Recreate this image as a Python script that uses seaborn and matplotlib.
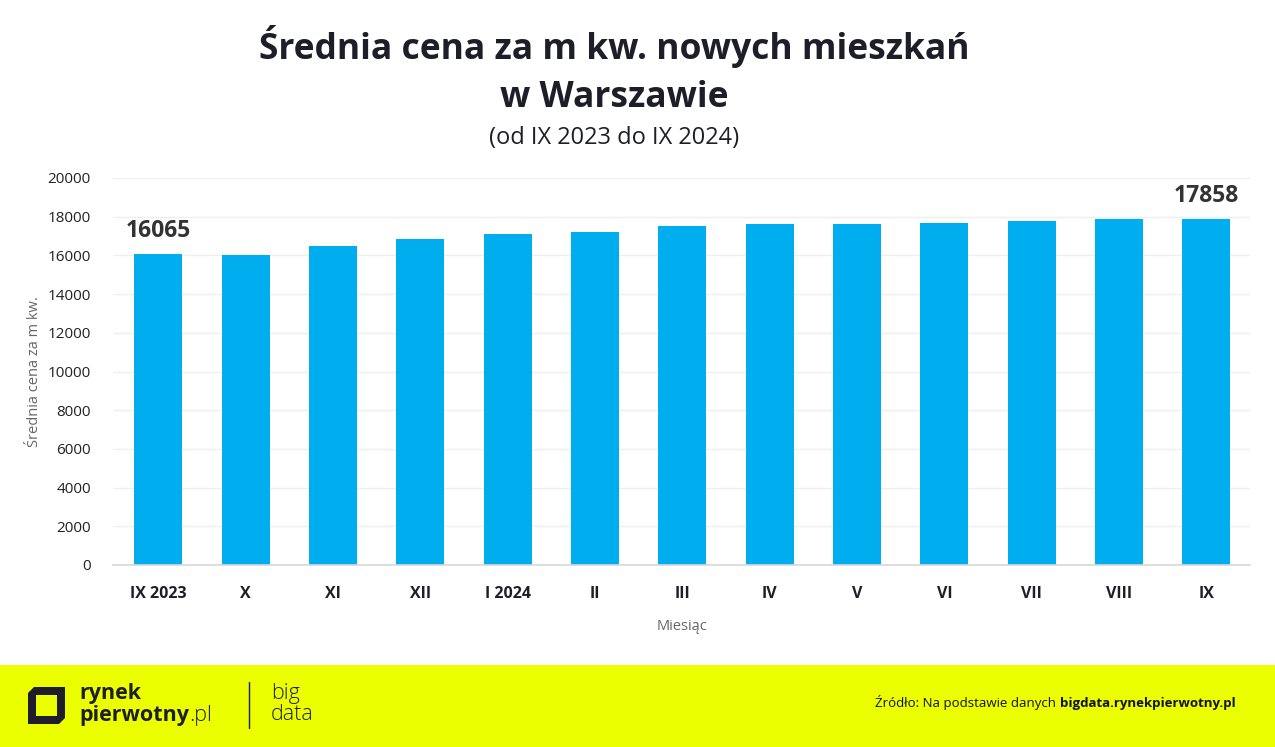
import matplotlib
matplotlib.use("Agg")
import matplotlib.pyplot as plt
import matplotlib.patches as mpatches
import seaborn as sns
import pandas as pd

# ---- data ----
months = ["IX 2023", "X", "XI", "XII", "I 2024", "II", "III", "IV", "V", "VI", "VII", "VIII", "IX"]
prices = [16065, 16040, 16460, 16840, 17130, 17185, 17495, 17615, 17615, 17700, 17770, 17890, 17858]
y_ticks = [0, 2000, 4000, 6000, 8000, 10000, 12000, 14000, 16000, 18000, 20000]
labelled = {0: "16065", 12: "17858"}

title_line1 = "Średnia cena za m kw. nowych mieszkań"
title_line2 = "w Warszawie"
subtitle_text = "(od IX 2023 do IX 2024)"
x_label = "Miesiąc"
y_label = "Średnia cena za m kw."
source_prefix = "Źródło: Na podstawie danych"
source_bold = "bigdata.rynekpierwotny.pl"

df = pd.DataFrame({"month": months, "price": prices})

sns.set_theme(style="white")
plt.rcParams["font.family"] = ["Open Sans", "DejaVu Sans"]

W, H = 1275, 747
fig = plt.figure(figsize=(W / 100, H / 100), dpi=100)
fig.patch.set_facecolor("white")

def fx(x):
    return x / W

def fy(y):
    return 1 - y / H

ax = fig.add_axes([fx(113), fy(565), fx(1250) - fx(113), fy(178) - fy(565)])
sns.barplot(data=df, x="month", y="price", color="#00AEEF", width=0.55,
            saturation=1, ax=ax, edgecolor="none")
ax.set_xlim(-0.52, 12.5)
ax.set_ylim(0, 20000)
ax.set_yticks(y_ticks)
ax.set_yticklabels([str(t) for t in y_ticks], fontsize=11, color="#222222")
ax.tick_params(axis="y", length=0, pad=16)
ax.tick_params(axis="x", length=0, pad=15)
for lab in ax.get_xticklabels():
    lab.set_fontweight("bold")
    lab.set_fontsize(11.5)
    lab.set_color("#1E1E2A")
ax.yaxis.grid(True, color="#EFEFEF", linewidth=1)
ax.set_axisbelow(True)
for s in ["top", "right", "left"]:
    ax.spines[s].set_visible(False)
ax.spines["bottom"].set_color("#D8D8D8")
ax.spines["bottom"].set_linewidth(1.2)
ax.set_xlabel(x_label, fontsize=10.5, color="#666666", labelpad=12)
ax.set_ylabel(y_label, fontsize=10.5, color="#666666", labelpad=4)

for i, txt in labelled.items():
    ax.annotate(txt, xy=(i, prices[i]), xytext=(0, 17), textcoords="offset points",
                ha="center", va="center", fontsize=16.5, fontweight="bold", color="#333333")

# title
fig.text(0.482, fy(47), title_line1, ha="center", va="center", fontsize=25.5,
         fontweight="bold", color="#1E1E2A")
fig.text(0.482, fy(98), title_line2, ha="center", va="center", fontsize=25.5,
         fontweight="bold", color="#1E1E2A")
fig.text(0.482, fy(138), subtitle_text, ha="center", va="center", fontsize=17,
         color="#1E1E2A")

# footer band
fig.patches.append(mpatches.Rectangle((0, 0), 1, fy(665), transform=fig.transFigure,
                                      facecolor="#EBFF00", edgecolor="none", zorder=0))

# logo icon
def P(x, y):
    return (fx(x), fy(y))

outer = [P(34, 687), P(65, 687), P(65, 718), P(59, 724), P(28, 724), P(28, 693)]
inner = [P(36, 695), P(57, 695), P(57, 716), P(36, 716)]
fig.patches.append(mpatches.Polygon(outer, closed=True, transform=fig.transFigure,
                                    facecolor="#1E1E2A", edgecolor="none", zorder=1))
fig.patches.append(mpatches.Polygon(inner, closed=True, transform=fig.transFigure,
                                    facecolor="#EBFF00", edgecolor="none", zorder=2))

fig.text(fx(79), fy(694), "rynek", ha="left", va="center", fontsize=15.5,
         fontweight="bold", color="#1E1E2A")
t = fig.text(fx(79), fy(715), "pierwotny", ha="left", va="center", fontsize=15.5,
             fontweight="bold", color="#1E1E2A")
fig.add_artist(plt.Line2D([fx(249), fx(249)], [fy(682), fy(728)], color="#1E1E2A",
                          linewidth=1, transform=fig.transFigure))
fig.text(fx(271), fy(694), "big", ha="left", va="center", fontsize=15.5,
         fontweight="light", color="#1E1E2A")
fig.text(fx(271), fy(714), "data", ha="left", va="center", fontsize=15.5,
         fontweight="light", color="#1E1E2A")

# source
sb = fig.text(fx(1236), fy(703), source_bold, ha="right", va="center", fontsize=9.5,
              fontweight="bold", color="#111111")
fig.canvas.draw()
bb = t.get_window_extent()
fig.text(bb.x1 / W, fy(715), ".pl", ha="left", va="center", fontsize=15.5,
         fontweight="light", color="#1E1E2A")
bb = sb.get_window_extent()
fig.text(bb.x0 / W - 0.0035, fy(703), source_prefix, ha="right", va="center", fontsize=9.5,
         color="#111111")

fig.savefig("out.png", dpi=100)
